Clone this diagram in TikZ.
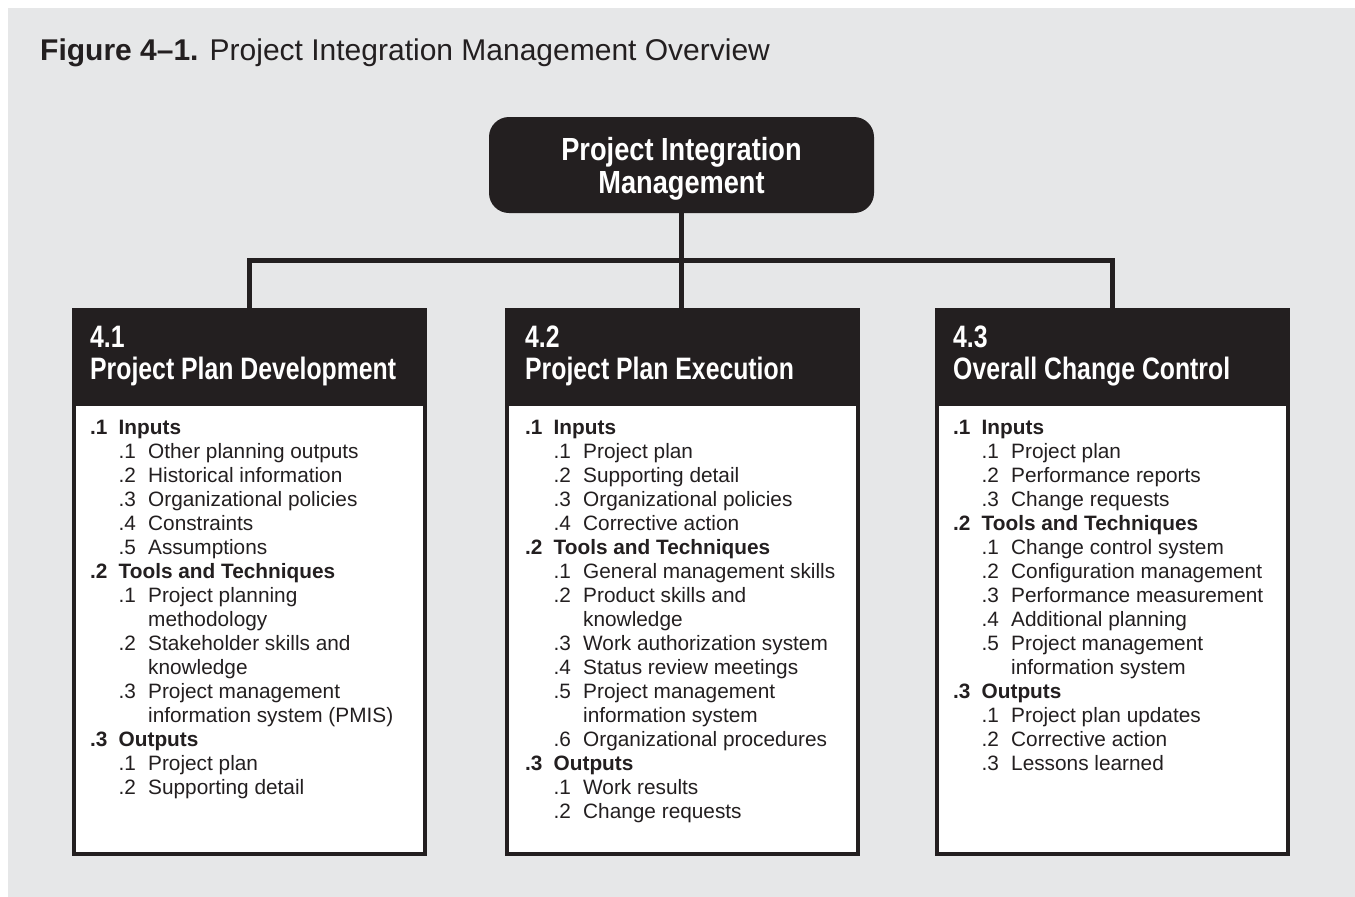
\documentclass[tikz,border=0pt]{standalone}
\usepackage{fontspec}
\setmainfont{Liberation Sans}
\newfontfamily\narrowfont[FakeStretch=0.8]{Liberation Sans}
\newfontfamily\topfont[FakeStretch=0.85]{Liberation Sans}
\usetikzlibrary{positioning}
\definecolor{ink}{HTML}{231F20}
\definecolor{paper}{HTML}{E6E7E8}
% one line of a column list
\newcommand\grp[2]{\makebox[28.5pt][l]{\bfseries#1}{\bfseries#2}\par}
\newcommand\itm[2]{\hspace*{28.5pt}\makebox[29.5pt][l]{#1}#2\par}
\newcommand\cnt[1]{\hspace*{58pt}#1\par}
\tikzset{
  wire/.style={draw=ink, line width=5pt},
  frame/.style={draw=ink, fill=white, line width=4pt, minimum width=351pt, minimum height=544pt, inner sep=0pt, anchor=north west},
  headbox/.style={fill=ink, minimum width=355pt, minimum height=98pt, inner sep=0pt, outer sep=0pt, anchor=north west},
  headtext/.style={text=white, anchor=base west, inner sep=0pt, font=\narrowfont\bfseries\fontsize{31}{32}\selectfont},
  listtext/.style={text=ink, anchor=base west, inner sep=0pt, font=\fontsize{20.8}{24}\selectfont},
  topbox/.style={fill=ink, rounded corners=20pt, minimum width=385pt, minimum height=96pt},
  toptext/.style={text=white, align=center, inner sep=0pt, font=\topfont\bfseries\fontsize{32}{33}\selectfont},
}

\begin{document}
\begin{tikzpicture}[x=1pt, y=-1pt]
	%%%%% START %%%%%
	
	\fill[white] (0, 0) rectangle (1355, 897);
	\fill[paper] (8, 8) rectangle (1355, 897);
	
	\node[anchor=base west, inner sep=0pt, text=ink, font=\fontsize{30}{32}\selectfont] (cap) at (40, 60) {{\bfseries Figure 4–1.} Project Integration Management Overview};
	
	\node[topbox] (pim) at (681.5, 165) {};
	\node[toptext] (pimt) at (681.5, 169) {Project Integration\\Management};
	
	% 4.1
	\node[frame] (ppdbox) at (72, 308) {};
	\node[headbox] (ppdh) at (72, 308) {};
	\node[headtext] (ppdt) at (90, 347) {\parbox[t]{330pt}{4.1\\Project Plan Development}};
	\node[listtext] (ppdl) at (90, 434) {\parbox[t]{330pt}{%
		\grp{.1}{Inputs}
		\itm{.1}{Other planning outputs}
		\itm{.2}{Historical information}
		\itm{.3}{Organizational policies}
		\itm{.4}{Constraints}
		\itm{.5}{Assumptions}
		\grp{.2}{Tools and Techniques}
		\itm{.1}{Project planning}
		\cnt{methodology}
		\itm{.2}{Stakeholder skills and}
		\cnt{knowledge}
		\itm{.3}{Project management}
		\cnt{information system (PMIS)}
		\grp{.3}{Outputs}
		\itm{.1}{Project plan}
		\itm{.2}{Supporting detail}}};
	
	% 4.2
	\node[frame] (ppebox) at (505, 308) {};
	\node[headbox] (ppeh) at (505, 308) {};
	\node[headtext] (ppet) at (525, 347) {\parbox[t]{330pt}{4.2\\Project Plan Execution}};
	\node[listtext] (ppel) at (525, 434) {\parbox[t]{330pt}{%
		\grp{.1}{Inputs}
		\itm{.1}{Project plan}
		\itm{.2}{Supporting detail}
		\itm{.3}{Organizational policies}
		\itm{.4}{Corrective action}
		\grp{.2}{Tools and Techniques}
		\itm{.1}{General management skills}
		\itm{.2}{Product skills and}
		\cnt{knowledge}
		\itm{.3}{Work authorization system}
		\itm{.4}{Status review meetings}
		\itm{.5}{Project management}
		\cnt{information system}
		\itm{.6}{Organizational procedures}
		\grp{.3}{Outputs}
		\itm{.1}{Work results}
		\itm{.2}{Change requests}}};
	
	% 4.3
	\node[frame] (occbox) at (935, 308) {};
	\node[headbox] (occh) at (935, 308) {};
	\node[headtext] (occt) at (953, 347) {\parbox[t]{330pt}{4.3\\Overall Change Control}};
	\node[listtext] (occl) at (953, 434) {\parbox[t]{330pt}{%
		\grp{.1}{Inputs}
		\itm{.1}{Project plan}
		\itm{.2}{Performance reports}
		\itm{.3}{Change requests}
		\grp{.2}{Tools and Techniques}
		\itm{.1}{Change control system}
		\itm{.2}{Configuration management}
		\itm{.3}{Performance measurement}
		\itm{.4}{Additional planning}
		\itm{.5}{Project management}
		\cnt{information system}
		\grp{.3}{Outputs}
		\itm{.1}{Project plan updates}
		\itm{.2}{Corrective action}
		\itm{.3}{Lessons learned}}};
	
	% connectors
	\coordinate (hub) at (pim.south |- 0, 260);
	\draw[wire] (pim.south) -- (pim.south |- ppeh.north);
	\draw[wire] (ppdh.north) |- (hub) -| (occh.north);
	
	%%%%% END %%%%%
\end{tikzpicture}
\end{document}
